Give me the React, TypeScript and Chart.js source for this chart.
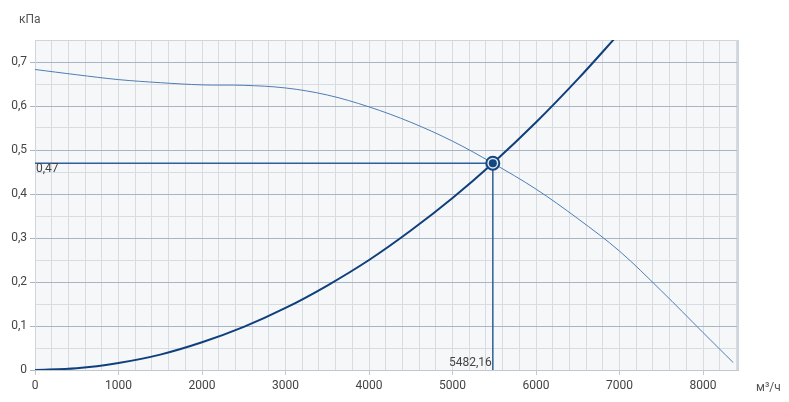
import React, { useEffect, useRef } from "react";
import { Chart, registerables } from "chart.js";

Chart.register(...registerables);

// Fan curve (flow m³/h -> pressure kPa)
const fanFlow = [0, 500, 1000, 1500, 2000, 2500, 3000, 3500, 4000, 4500, 5000, 5482.16, 6000, 6500, 7000, 7500, 8000, 8360];
const fanPressure = [0.683, 0.671, 0.66, 0.653, 0.648, 0.647, 0.641, 0.625, 0.598, 0.563, 0.52, 0.47, 0.411, 0.344, 0.27, 0.18, 0.085, 0.017];

// System (network) curve
const sysFlow = [0, 500, 1000, 1500, 2000, 2500, 3000, 3500, 4000, 4500, 5000, 5482.16, 6000, 6500, 7000];
const sysPressure = [0, 0.004, 0.016, 0.035, 0.063, 0.098, 0.141, 0.192, 0.25, 0.317, 0.391, 0.47, 0.563, 0.661, 0.766];

// Operating point
const opFlow = 5482.16;
const opPressure = 0.47;
const opFlowLabel = "5482,16";
const opPressureLabel = "0,47";

const xMin = 0;
const xMax = 8430;
const xStep = 200;
const xLabelStep = 1000;
const yMin = 0;
const yMax = 0.75;
const yStep = 0.05;
const yUnit = "кПа";
const xUnit = "м³/ч";

const FONT = "Roboto, 'Noto Sans', sans-serif";

function isMajorY(v: number) {
  return Math.abs(v * 10 - Math.round(v * 10)) < 1e-6;
}

export default function App() {
  const ref = useRef<HTMLCanvasElement | null>(null);

  useEffect(() => {
    document.body.style.margin = "0";
    const canvas = ref.current!;
    const fanData = fanFlow.map((x, i) => ({ x, y: fanPressure[i] }));
    const sysData = sysFlow.map((x, i) => ({ x, y: sysPressure[i] }));
    const crossData = [
      { x: xMin, y: opPressure },
      { x: opFlow, y: opPressure },
      { x: opFlow, y: yMin },
    ];

    const decor = {
      id: "decor",
      beforeDraw(chart: any) {
        const { ctx, chartArea: a } = chart;
        ctx.save();
        ctx.fillStyle = "#f5f7f9";
        ctx.fillRect(a.left, a.top, a.right - a.left, a.bottom - a.top);
        ctx.restore();
      },
      beforeDatasetsDraw(chart: any) {
        const { ctx, chartArea: a } = chart;
        ctx.save();
        ctx.strokeStyle = "#cfd5dc";
        ctx.lineWidth = 1;
        ctx.beginPath();
        ctx.moveTo(a.left + 0.5, a.bottom);
        ctx.lineTo(a.left + 0.5, a.top + 0.5);
        ctx.lineTo(a.right, a.top + 0.5);
        ctx.stroke();
        ctx.lineWidth = 2;
        ctx.beginPath();
        ctx.moveTo(a.right - 1, a.top);
        ctx.lineTo(a.right - 1, a.bottom);
        ctx.stroke();
        ctx.strokeStyle = "#c3c8ce";
        ctx.lineWidth = 1;
        ctx.beginPath();
        ctx.moveTo(a.left, a.bottom + 0.5);
        ctx.lineTo(a.right, a.bottom + 0.5);
        ctx.stroke();
        ctx.restore();
      },
      afterDatasetsDraw(chart: any) {
        const { ctx, chartArea: a, scales } = chart;
        const px = scales.x.getPixelForValue(opFlow);
        const py = scales.y.getPixelForValue(opPressure);
        ctx.save();
        ctx.beginPath();
        ctx.arc(px, py, 6.5, 0, Math.PI * 2);
        ctx.fillStyle = "#dfe7f1";
        ctx.fill();
        ctx.lineWidth = 2;
        ctx.strokeStyle = "#14467f";
        ctx.stroke();
        ctx.beginPath();
        ctx.arc(px, py, 4, 0, Math.PI * 2);
        ctx.fillStyle = "#14467f";
        ctx.fill();
        ctx.fillStyle = "#444";
        ctx.font = "12px " + FONT;
        ctx.textBaseline = "middle";
        ctx.textAlign = "left";
        ctx.fillText(opPressureLabel, a.left + 1, py + 6);
        ctx.textAlign = "right";
        ctx.fillText(opFlowLabel, px - 1, a.bottom - 7);
        ctx.fillStyle = "#555";
        ctx.textAlign = "left";
        ctx.fillText(yUnit, 19, 20);
        ctx.fillText(xUnit, 756, 388);
        ctx.restore();
      },
    };

    const chart = new Chart(canvas, {
      type: "line",
      data: {
        datasets: [
          {
            data: crossData,
            borderColor: "#2f5f9c",
            borderWidth: 1.5,
            pointRadius: 0,
            tension: 0,
          },
          {
            data: fanData,
            borderColor: "#4f7db5",
            borderWidth: 1,
            pointRadius: 0,
            tension: 0.35,
          },
          {
            data: sysData,
            borderColor: "#0f3f7c",
            borderWidth: 2,
            pointRadius: 0,
            cubicInterpolationMode: "monotone",
          },
        ],
      },
      options: {
        animation: false,
        responsive: false,
        devicePixelRatio: 1,
        layout: { padding: { top: 40, right: 50, left: 0, bottom: 0 } },
        plugins: { legend: { display: false }, tooltip: { enabled: false } },
        scales: {
          x: {
            type: "linear",
            min: xMin,
            max: xMax,
            afterBuildTicks(scale: any) {
              const t = [];
              for (let v = xMin; v <= xMax; v += xStep) t.push({ value: v });
              scale.ticks = t;
            },
            afterFit(scale: any) {
              scale.height = 32;
            },
            border: { display: false },
            grid: {
              color: "#d8dce1",
              lineWidth: 1,
              drawTicks: true,
              tickLength: 5,
              tickColor: (c: any) =>
                c.tick && c.tick.value % xLabelStep === 0 ? "#c3c8ce" : "rgba(0,0,0,0)",
            },
            ticks: {
              autoSkip: false,
              maxRotation: 0,
              padding: 4,
              color: "#444",
              font: { size: 12, family: FONT },
              callback: (v: any) => (Number(v) % xLabelStep === 0 ? String(v) : ""),
            },
          },
          y: {
            type: "linear",
            min: yMin,
            max: yMax,
            afterBuildTicks(scale: any) {
              const t = [];
              for (let i = 0; i * yStep <= yMax + 1e-9; i++) t.push({ value: Math.round(i * yStep * 100) / 100 });
              scale.ticks = t;
            },
            afterFit(scale: any) {
              scale.width = 35;
            },
            border: { display: false },
            grid: {
              color: (c: any) => (c.tick && isMajorY(c.tick.value) ? "#a9b5c4" : "#d9dde2"),
              lineWidth: 1,
              drawTicks: true,
              tickLength: 5,
              tickColor: (c: any) =>
                c.tick && isMajorY(c.tick.value) ? "#a9b5c4" : "rgba(0,0,0,0)",
            },
            ticks: {
              autoSkip: false,
              padding: 3,
              color: "#444",
              font: { size: 12, family: FONT },
              callback: (v: any) => {
                const n = Number(v);
                if (!isMajorY(n)) return "";
                if (n === 0) return "0";
                return n.toFixed(1).replace(".", ",");
              },
            },
          },
        },
      },
      plugins: [decor],
    } as any);

    return () => chart.destroy();
  }, []);

  return (
    <div style={{ position: "absolute", left: 0, top: 0, width: 789, height: 402 }}>
      <canvas ref={ref} width={789} height={402} style={{ width: 789, height: 402 }} />
    </div>
  );
}
